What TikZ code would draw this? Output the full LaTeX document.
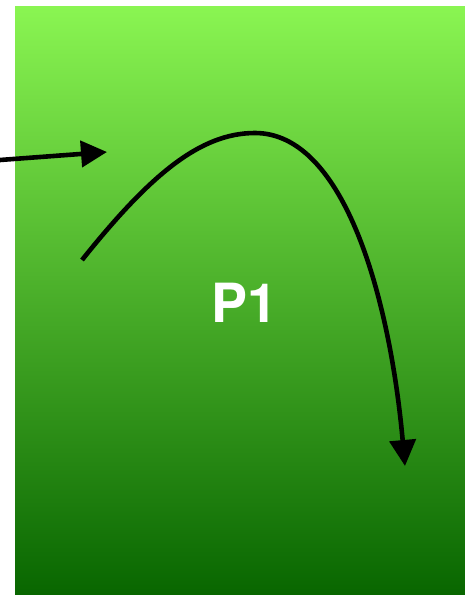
\documentclass[tikz,border=0pt]{standalone}
\usepackage{fontspec}
\setmainfont{TeX Gyre Heros}
\usetikzlibrary{arrows.meta}
\definecolor{gtop}{HTML}{8AF552}
\definecolor{gbot}{HTML}{086600}
\begin{document}
\begin{tikzpicture}[x=1pt,y=-1pt,
  conn/.style={line width=4.6pt,-{Triangle[length=26pt,width=26pt]}}]
\useasboundingbox (0,0) rectangle (465,595);
\shade[top color=gtop,bottom color=gbot] (15,6) rectangle (465,595);
\node[text=white,font=\bfseries\fontsize{54}{60}\selectfont] (p1) at (245,303) {P1};
\coordinate (a0) at (0,160);
\coordinate (a1) at (107,152);
\draw[conn] (a0) -- (a1);
\coordinate (c0) at (82,260);
\coordinate (c1) at (255,133);
\coordinate (c2) at (405,466);
\draw[conn] (c0) .. controls (150,175) and (200,133) .. (c1) .. controls (345,133) and (390,300) .. (c2);
\end{tikzpicture}
\end{document}
